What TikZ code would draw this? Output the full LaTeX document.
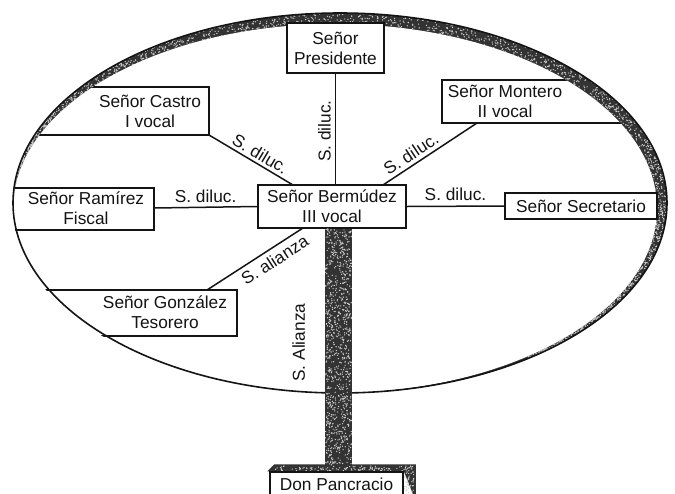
\documentclass[tikz,border=0pt]{standalone}
\usepackage{fontspec}
\setmainfont{Liberation Sans}
\usetikzlibrary{calc}
\definecolor{ink}{gray}{0.08}
\definecolor{bandgray}{gray}{0.2}
\definecolor{speck}{gray}{0.8}
\pgfdeclarelayer{top}
\pgfsetlayers{main,top}
\tikzset{
  lbl/.style={font=\fontsize{17.3}{20}\selectfont, text=ink, inner sep=1pt},
  person/.style={lbl, align=center, inner sep=0pt},
  boxed/.style={person, draw=ink, line width=1.5pt, fill=white},
  link/.style={draw=ink, line width=1.5pt},
  bandfill/.style={fill=bandgray},
  dot/.style={fill=speck},
}
\begin{document}
\begin{tikzpicture}[x=1pt,y=-1pt]
\useasboundingbox (0,0) rectangle (675,493);
\clip (0,0) rectangle (675,493);
\pgfmathsetseed{42}
% oval with thick shaded rim
\fill[bandfill] (340,203) ellipse [x radius=327pt, y radius=190pt];
\fill[white] (335,208.5) ellipse [x radius=322pt, y radius=184.5pt];
\begin{scope}
  \clip (340,203) ellipse [x radius=327pt, y radius=190pt];
  \foreach \k in {1,...,1700} {
    \pgfmathsetmacro\t{-178+232*rnd}
    \pgfmathsetmacro\f{rnd}
    \pgfmathsetmacro\px{335+322*cos(\t)+\f*(5+5*cos(\t))}
    \pgfmathsetmacro\py{208.5+184.5*sin(\t)+\f*(-5.5+5.5*sin(\t))}
    \fill[dot] (\px,\py) circle[radius=0.7pt];
  }
\end{scope}
\draw[ink, line width=1.6pt] (340,203) ellipse [x radius=327pt, y radius=190pt];
% boxes that are closed by the oval
\begin{scope}
  \clip (335,208.5) ellipse [x radius=322pt, y radius=184.5pt];
  \draw[link] (0,87) -| (209,135) -- (0,135);
  \draw[link] (675,80) -| (442,123) -- (675,123);
  \draw[link] (0,188) -| (154,230) -- (0,230);
  \draw[link] (0,290) -| (237,336) -- (0,336);
\end{scope}
% persons
\node[boxed, minimum width=97pt, minimum height=50pt] (pres) at (335.5,48) {Señor\\Presidente};
\node[boxed, minimum width=148pt, minimum height=43pt] (berm) at (332,206.5) {Señor Bermúdez\\III vocal};
\node[boxed, minimum width=152pt, minimum height=26pt] (secr) at (581,206) {Señor Secretario};
\node[person] (castro) at (150,111) {Señor Castro\\I vocal};
\node[person] (montero) at (505,101) {Señor Montero\\II vocal};
\node[person] (ramirez) at (86,208) {Señor Ramírez\\Fiscal};
\node[person] (gonz) at (165,312) {Señor González\\Tesorero};
\begin{pgfonlayer}{top}
  \node[boxed, minimum width=133pt, minimum height=24pt] (don) at (336.5,484) {Don Pancracio};
\end{pgfonlayer}
% attachment points
\coordinate (castroC) at (209,135);
\coordinate (monteroC) at (477,123);
\coordinate (ramirezC) at (154,208);
\coordinate (gonzC) at (207,290);
\coordinate (bermCastro) at (293,185);
\coordinate (bermMontero) at (383,185);
\coordinate (bermGonz) at (303,228);
% connectors
\draw[link] (pres.south) -- node[lbl, rotate=90, above=3pt, pos=0.52] {S. diluc.} (pres.south |- berm.north);
\draw[link] (castroC) -- node[lbl, sloped, above=2pt, pos=0.55] {S. diluc.} (bermCastro);
\draw[link] (bermMontero) -- node[lbl, sloped, above=2.5pt, pos=0.36] {S. diluc.} (monteroC);
\draw[link] (ramirezC) -- node[lbl, above=3pt] {S. diluc.} (berm.west);
\draw[link] (berm.east) -- node[lbl, above=3.5pt] {S. diluc.} (secr.west);
\draw[link] (gonzC) -- node[lbl, sloped, below=3.5pt, pos=0.64] {S. alianza} (bermGonz);
% the thick alliance bar down to Don Pancracio
\draw[bandgray, line width=27pt] ($(berm.south)+(6.5,0.7)$) -- node[lbl, rotate=90, above=19pt, pos=0.48] {S. Alianza} ($(berm.south |- don.north)+(6.5,-6)$);
\fill[bandfill] ($(don.north west)+(-2,0)$) -- ($(don.north west)+(5,-7)$) -- ($(don.north east)+(12,-7)$) -- ($(don.north east)+(12,30)$) -- (don.north east) -- cycle;
\foreach \k in {1,...,900} {
  \pgfmathsetmacro\px{325.5+26*rnd}
  \pgfmathsetmacro\py{229+236*rnd}
  \fill[dot] (\px,\py) circle[radius=0.7pt];
}
\foreach \k in {1,...,120} {
  \pgfmathsetmacro\px{275+139*rnd}
  \pgfmathsetmacro\py{466+5*rnd}
  \fill[dot] (\px,\py) circle[radius=0.7pt];
}
\foreach \k in {1,...,40} {
  \pgfmathsetmacro\px{404+10*rnd}
  \pgfmathsetmacro\py{472+21*rnd}
  \fill[dot] (\px,\py) circle[radius=0.7pt];
}
\end{tikzpicture}
\end{document}
